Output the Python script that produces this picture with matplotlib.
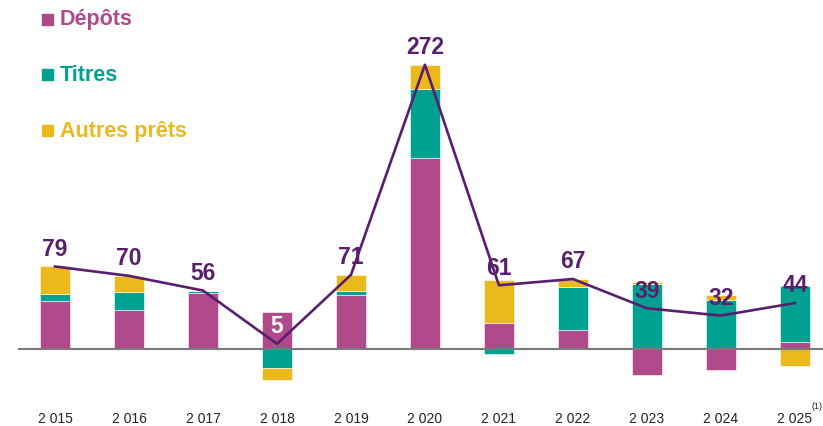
import matplotlib.pyplot as plt
import numpy as np

plt.rcParams['font.family'] = ['Liberation Sans', 'DejaVu Sans']

# Data
years = ['2 015', '2 016', '2 017', '2 018', '2 019', '2 020',
         '2 021', '2 022', '2 023', '2 024', '2 025']
depots = [46, 37, 53.5, 35, 52, 183, 24.5, 18, -25, -20, 7]
titres = [7, 18, 1.7, -18.5, 3.3, 66, -5, 41.5, 62.5, 47, 53]
autres = [26, 15, 0.8, -11.5, 15.7, 23, 41.5, 7.5, 1.5, 5, -16]
totals = [79, 70, 56, 5, 71, 272, 61, 67, 39, 32, 44]

c_dep = '#B04A8A'
c_tit = '#00A191'
c_aut = '#EBB91C'
c_line = '#5A1E6E'

fig = plt.figure(figsize=(8.23, 4.27), dpi=100)
ax = fig.add_axes([18 / 823, 27 / 427, 805 / 823, 370 / 427])

x = np.arange(len(years))
w = 0.405

# stack positives upward and negatives downward
pos_base = np.zeros(len(years))
neg_base = np.zeros(len(years))
for vals, col in [(depots, c_dep), (titres, c_tit), (autres, c_aut)]:
    v = np.array(vals, dtype=float)
    base = np.where(v >= 0, pos_base, neg_base)
    ax.bar(x, v, w, bottom=base, color=col, edgecolor='white',
           linewidth=0.4, zorder=2)
    pos_base = pos_base + np.where(v >= 0, v, 0)
    neg_base = neg_base + np.where(v < 0, v, 0)

ax.axhline(0, color='#7a7a7a', linewidth=1.5, zorder=3)

ax.plot(x, totals, color=c_line, linewidth=1.9, zorder=4)

for i, t in enumerate(totals):
    col = 'white' if i == 3 else c_line
    ax.annotate(str(t), (x[i], t), xytext=(0, 13), textcoords='offset points',
                ha='center', va='center', fontsize=16.5, fontweight='bold',
                color=col, zorder=5)

ax.set_xlim(-0.5, 10.38)
ax.set_ylim(-47.8, 306.2)
ax.set_xticks(x)
ax.set_xticklabels(years, fontsize=10, color='#222222')
ax.tick_params(axis='x', length=0, pad=9)
ax.set_yticks([])
for s in ax.spines.values():
    s.set_visible(False)

fig.text(812 / 823, 1 - 407 / 427, '(1)', fontsize=6.5, color='#222222',
         ha='left', va='center')

# legend as coloured squares with coloured text
for k, (lab, col) in enumerate([('Dépôts', c_dep), ('Titres', c_tit),
                                ('Autres prêts', c_aut)]):
    yy = 1 - (20 + 55.5 * k) / 427
    fig.patches.append(plt.Rectangle((42 / 823, yy - 5.5 / 427), 11 / 823, 11 / 427,
                                     color=col, transform=fig.transFigure,
                                     figure=fig))
    fig.text(60 / 823, yy, lab, fontsize=15.5, fontweight='bold', color=col,
             ha='left', va='center')

fig.savefig('out.png', dpi=100)
